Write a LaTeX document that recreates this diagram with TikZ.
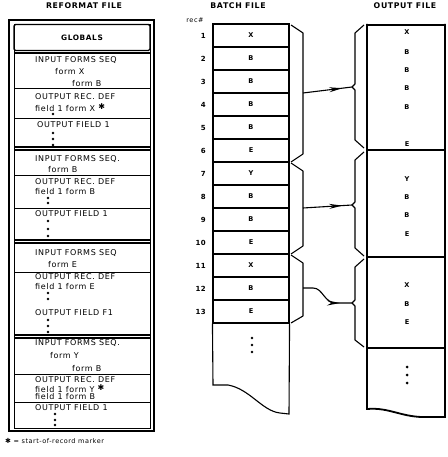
\documentclass[tikz,border=0pt]{standalone}
\usepackage{fontspec}
\newfontfamily\lbl{DejaVu Sans}[LetterSpace=8]
\newfontfamily\sym{DejaVu Sans}
\usetikzlibrary{arrows.meta,decorations.markings}
\begin{document}
\begin{tikzpicture}[x=1pt,y=-1pt,
  txt/.style={inner sep=0pt, anchor=west, font=\lbl\fontsize{8}{8}\selectfont},
  small/.style={inner sep=0pt, font=\lbl\fontsize{6.5}{7}\selectfont},
  title/.style={inner sep=0pt, font=\lbl\bfseries\fontsize{7.8}{8}\selectfont},
  rowbox/.style={draw, line width=1.1pt, minimum width=76pt, minimum height=23pt, inner sep=0pt, font=\lbl\bfseries\fontsize{6.6}{7}\selectfont},
  recno/.style={inner sep=0pt, anchor=east, font=\lbl\bfseries\fontsize{7}{7}\selectfont},
  outl/.style={inner sep=0pt, font=\lbl\bfseries\fontsize{6.6}{7}\selectfont},
  brace/.style={line width=1.1pt, line join=round},
  conn/.style={line width=1.1pt, postaction={decorate}, decoration={markings, mark=at position #1 with {\arrow{Stealth[length=13pt,width=5pt]}}}},
  dot/.style={fill=black}
]
\useasboundingbox (0,0) rectangle (447,457);

% ---------- titles ----------
\node[title] (t1) at (84,6) {REFORMAT FILE};
\node[title] (t2) at (238,6) {BATCH FILE};
\node[title] (t3) at (405,6) {OUTPUT FILE};

% ---------- reformat file ----------
\draw[line width=1.6pt] (9,20) rectangle (154,431);
\draw[line width=0.8pt] (14,24) rectangle (150,428);
\node[draw, line width=1.2pt, rounded corners=1.5pt, minimum width=136pt, minimum height=26pt, inner sep=0pt, font=\lbl\bfseries\fontsize{7.4}{8}\selectfont] (glob) at (82,37.5) {GLOBALS};
\foreach \yy in {53,147,150,240,243,335,338}
  \draw[line width=1.1pt] (14,\yy) -- (150,\yy);
\foreach \yy in {88,118,175,208,272,374,402}
  \draw[line width=0.9pt] (14,\yy) -- (150,\yy);

% section 1
\node[txt] (a1) at (35,60) {INPUT FORMS SEQ};
\node[txt] (a2) at (55,72) {form X};
\node[txt] (a3) at (72,84) {form B};
\node[txt] (a4) at (35,97) {OUTPUT REC. DEF};
\node[txt] (a5) at (35,108) {field 1 form X \raisebox{0.5ex}{\sym\fontsize{8}{8}\selectfont ✱}};
\node[txt] (a6) at (37,125) {OUTPUT FIELD 1};
\foreach \yy in {114,133,139,145} \fill[dot] (53,\yy) circle (1.3);

% section 2
\node[txt] (b1) at (35,159) {INPUT FORMS SEQ.};
\node[txt] (b2) at (48,170) {form B};
\node[txt] (b3) at (35,182) {OUTPUT REC. DEF};
\node[txt] (b4) at (35,192) {field 1 form B};
\node[txt] (b5) at (35,214) {OUTPUT FIELD 1};
\foreach \yy in {198,203,221,229,236} \fill[dot] (48,\yy) circle (1.3);

% section 3
\node[txt] (c1) at (35,253) {INPUT FORMS SEQ};
\node[txt] (c2) at (48,265) {form E};
\node[txt] (c3) at (35,277) {OUTPUT REC. DEF};
\node[txt] (c4) at (35,287) {field 1 form E};
\node[txt] (c5) at (35,313) {OUTPUT FIELD F1};
\foreach \yy in {293,299,320,326,332} \fill[dot] (48,\yy) circle (1.3);

% section 4
\node[txt] (d1) at (35,343) {INPUT FORMS SEQ.};
\node[txt] (d2) at (50,356) {form Y};
\node[txt] (d3) at (72,369) {form B};
\node[txt] (d4) at (35,380) {OUTPUT REC. DEF};
\node[txt] (d5) at (35,389) {field 1 form Y \raisebox{0.5ex}{\sym\fontsize{8}{8}\selectfont ✱}};
\node[txt] (d6) at (35,397) {field 1 form B};
\node[txt] (d7) at (35,408) {OUTPUT FIELD 1};
\foreach \yy in {414,420,425} \fill[dot] (55,\yy) circle (1.3);

% footnote
\node[small, anchor=west] (fn) at (5,441) {{\sym\fontsize{7}{7}\selectfont ✱} = start-of-record marker};

% ---------- batch file ----------
\node[small] (rec) at (195,20) {rec\#};
\foreach \i/\l in {1/X,2/B,3/B,4/B,5/B,6/E,7/Y,8/B,9/B,10/E,11/X,12/B,13/E} {
  \node[rowbox] (r\i) at (251,{24+23*(\i-0.5)}) {\l};
  \node[recno] (n\i) at (206,{24+23*(\i-0.5)}) {\i};
}
\draw[line width=1.1pt] (r13.south west) -- (213,385) -- (228,385)
   .. controls (250,389) and (262,411) .. (280,413) -- (289,414) -- (r13.south east);
\foreach \yy in {338,345,352} \fill[dot] (252,\yy) circle (1.3);

% batch braces
\draw[brace] (291,25) -- (303,33) -- (303,154) -- (291,162);
\draw[brace] (291,163) -- (303,171) -- (303,246) -- (291,254);
\draw[brace] (291,255) -- (303,263) -- (303,316) -- (291,323);
\coordinate (bt1) at (303,93);
\coordinate (bt2) at (303,208);
\coordinate (bt3) at (303,288);

% ---------- output file ----------
\draw[line width=1.8pt] (367,25) -- (445,25);
\draw[line width=1.8pt] (367,150) -- (445,150);
\draw[line width=1.8pt] (367,257) -- (445,257);
\draw[line width=1.8pt] (367,348) -- (445,348);
\draw[line width=1.8pt] (367,24) -- (367,409)
   .. controls (390,407) and (402,418) .. (428,417) -- (445,417) -- (445,24);
\node[draw=none, minimum width=78pt, minimum height=125pt, inner sep=0pt] (o1) at (406,87.5) {};
\node[draw=none, minimum width=78pt, minimum height=107pt, inner sep=0pt] (o2) at (406,203.5) {};
\node[draw=none, minimum width=78pt, minimum height=91pt, inner sep=0pt] (o3) at (406,302.5) {};

\foreach \l/\yy/\nm in {X/32/p1,B/52/p2,B/70/p3,B/88/p4,B/107/p5,E/144/p6,
                      Y/179/q1,B/197/q2,B/215/q3,E/234/q4,
                      X/285/s1,B/304/s2,E/322/s3}
  \node[outl] (\nm) at (407,\yy) {\l};
\foreach \yy in {367,375,383} \fill[dot] (407,\yy) circle (1.5);

% output braces
\draw[brace] (364,25) -- (355,33) -- (355,84) -- (352,87) -- (355,90) -- (355,140) -- (364,148);
\draw[brace] (364,152) -- (355,160) -- (355,202) -- (352,205) -- (355,208) -- (355,248) -- (364,256);
\draw[brace] (364,259) -- (355,267) -- (355,300) -- (352,303) -- (355,306) -- (355,340) -- (364,347);
\coordinate (ot1) at (352,87);
\coordinate (ot2) at (352,205);
\coordinate (ot3) at (352,303);

% ---------- connectors ----------
\draw[conn=0.8] (bt1) -- (ot1);
\draw[conn=0.8] (bt2) -- (ot2);
\draw[conn=0.78] (bt3) -- ++(10,0) .. controls +(10,0) and +(-12,0) .. (336,303) -- (ot3);
\end{tikzpicture}
\end{document}
